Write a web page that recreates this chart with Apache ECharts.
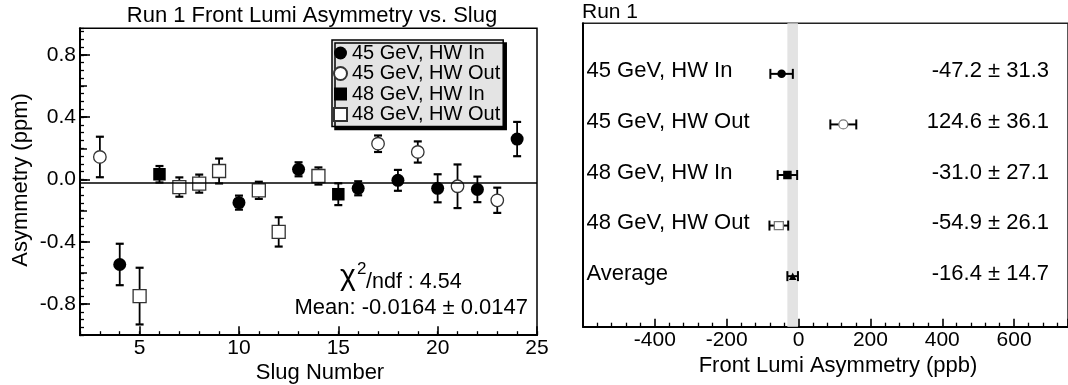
<!DOCTYPE html>
<html><head><meta charset="utf-8">
<script src="https://cdn.jsdelivr.net/npm/echarts@6/dist/echarts.min.js"></script>
<style>html,body{margin:0;padding:0;background:#fff}#c{width:1068px;height:385px}</style>
</head><body><div id="c"></div>
<script>
// ---------- Left panel data ----------
const seriesNames = ['45 GeV, HW In', '45 GeV, HW Out', '48 GeV, HW In', '48 GeV, HW Out'];
const slugs45In = [4, 10, 13, 16, 18, 20, 22, 24];
const asym45In  = [-0.546, -0.149, 0.065, -0.057, -0.006, -0.057, -0.064, 0.259];
const err45In   = [0.133, 0.045, 0.045, 0.045, 0.067, 0.09, 0.082, 0.11];
const slugs45Out = [3, 17, 19, 21, 23];
const asym45Out  = [0.144, 0.229, 0.176, -0.044, -0.134];
const err45Out   = [0.13, 0.053, 0.068, 0.14, 0.081];
const slugs48In = [6, 15];
const asym48In  = [0.033, -0.095];
const err48In   = [0.053, 0.07];
const slugs48Out = [5, 7, 8, 9, 11, 12, 14];
const asym48Out  = [-0.749, -0.049, -0.027, 0.054, -0.07, -0.337, 0.022];
const err48Out   = [0.182, 0.062, 0.058, 0.08, 0.055, 0.094, 0.055];
const fitMean = -0.0164, fitMeanErr = 0.0147, chi2ndf = 4.54;
const slugTickLabels = [5, 10, 15, 20, 25];
const asymTickLabels = [-0.8, -0.4, 0.0, 0.4, 0.8];
const asymMidTicks = [-0.8, -0.6, -0.4, -0.2, 0, 0.2, 0.4, 0.6, 0.8];

// ---------- Right panel data ----------
const rowLabels = ['45 GeV, HW In', '45 GeV, HW Out', '48 GeV, HW In', '48 GeV, HW Out', 'Average'];
const rowValues = [-47.2, 124.6, -31.0, -54.9, -16.4];
const rowErrors = [31.3, 36.1, 27.1, 26.1, 14.7];

// ---------- styling ----------
const FONT = '"Liberation Sans", Arial, Helvetica, sans-serif';
const rightMin = -600, rightMax = 750;
const rowMarker = [
  {symbol: 'circle', symbolSize: 8.5, itemStyle: {color: '#000', opacity: 1}},
  {symbol: 'circle', symbolSize: 9, itemStyle: {color: '#fff', borderColor: '#777', borderWidth: 1.2, opacity: 1}},
  {symbol: 'rect', symbolSize: 8.5, itemStyle: {color: '#000', opacity: 1}},
  {symbol: 'rect', symbolSize: [9, 8], itemStyle: {color: '#fff', borderColor: '#777', borderWidth: 1.2, opacity: 1}},
  {symbol: 'triangle', symbolSize: 7.5, itemStyle: {color: '#000', opacity: 1}}
];
const leftMarker = [
  {symbol: 'circle', symbolSize: 13, itemStyle: {color: '#000', opacity: 1}},
  {symbol: 'circle', symbolSize: 12.5, itemStyle: {color: '#fff', borderColor: '#333', borderWidth: 1.3, opacity: 1}},
  {symbol: 'rect', symbolSize: 12.5, itemStyle: {color: '#000', opacity: 1}},
  {symbol: 'rect', symbolSize: 13, itemStyle: {color: '#fff', borderColor: '#333', borderWidth: 1.3, opacity: 1}}
];

function pts(xs, ys, es) { return xs.map((x, i) => [x, ys[i], es[i]]); }
const leftData = [
  pts(slugs45In, asym45In, err45In),
  pts(slugs45Out, asym45Out, err45Out),
  pts(slugs48In, asym48In, err48In),
  pts(slugs48Out, asym48Out, err48Out)
];

function vErr(params, api) {
  const x = api.value(0), y = api.value(1), e = api.value(2);
  const a = api.coord([x, y + e]), b = api.coord([x, y - e]);
  const hw = 4;
  return {type: 'group', children: [
    {type: 'line', shape: {x1: a[0], y1: a[1], x2: b[0], y2: b[1]}, style: {stroke: '#000', lineWidth: 1.8}},
    {type: 'line', shape: {x1: a[0] - hw, y1: a[1], x2: a[0] + hw, y2: a[1]}, style: {stroke: '#000', lineWidth: 2.2}},
    {type: 'line', shape: {x1: b[0] - hw, y1: b[1], x2: b[0] + hw, y2: b[1]}, style: {stroke: '#000', lineWidth: 2.2}}
  ]};
}
function hErr(params, api) {
  const x = api.value(0), y = api.value(1), e = api.value(2);
  const a = api.coord([x - e, y]), b = api.coord([x + e, y]);
  const hh = 5;
  return {type: 'group', children: [
    {type: 'line', shape: {x1: a[0], y1: a[1], x2: b[0], y2: b[1]}, style: {stroke: '#000', lineWidth: 2}},
    {type: 'line', shape: {x1: a[0], y1: a[1] - hh, x2: a[0], y2: a[1] + hh}, style: {stroke: '#000', lineWidth: 2}},
    {type: 'line', shape: {x1: b[0], y1: b[1] - hh, x2: b[0], y2: b[1] + hh}, style: {stroke: '#000', lineWidth: 2}}
  ]};
}
function rowText(params, api) {
  const i = params.dataIndex;
  const p = api.coord([api.value(0), api.value(1)]);
  const fs = 22;
  const txt = rowValues[i].toFixed(1) + ' \u00b1 ' + rowErrors[i].toFixed(1);
  return {type: 'group', children: [
    {type: 'text', x: p[0] + 3.5, y: p[1] - 2.5, style: {text: rowLabels[i], fontSize: fs, fontFamily: FONT, fill: '#000', align: 'left', verticalAlign: 'middle', textAlign: 'left', textVerticalAlign: 'middle'}},
    {type: 'text', x: p[0] + 466, y: p[1] - 2.5, style: {text: txt, fontSize: fs, fontFamily: FONT, fill: '#000', align: 'right', verticalAlign: 'middle', textAlign: 'right', textVerticalAlign: 'middle'}}
  ]};
}

const series = [];
leftData.forEach((d, k) => {
  series.push({type: 'custom', name: 'err' + k, xAxisIndex: 0, yAxisIndex: 0, data: d, renderItem: vErr, encode: {x: 0, y: 1}, z: 2, silent: true});
});
leftData.forEach((d, k) => {
  const s = {type: 'scatter', name: seriesNames[k], xAxisIndex: 0, yAxisIndex: 0,
    data: d.map(p => [p[0], p[1]]), symbol: leftMarker[k].symbol, symbolSize: leftMarker[k].symbolSize,
    itemStyle: leftMarker[k].itemStyle, z: 4, silent: true};
  if (k === 0) {
    s.markLine = {silent: true, symbol: ['none', 'none'], label: {show: false},
      lineStyle: {color: '#000', width: 1.5, type: 'solid', opacity: 1}, data: [{yAxis: fitMean}]};
  }
  series.push(s);
});
series.push({type: 'line', name: 'band', xAxisIndex: 2, yAxisIndex: 3, data: [], z: 0, silent: true,
  markArea: {silent: true, itemStyle: {color: '#e3e3e3', opacity: 1},
    data: [[{xAxis: rowValues[4] - rowErrors[4]}, {xAxis: rowValues[4] + rowErrors[4]}]]}});
series.push({type: 'custom', name: 'rowErr', xAxisIndex: 2, yAxisIndex: 3,
  data: rowValues.map((v, i) => [v, i + 1, rowErrors[i]]), renderItem: hErr, encode: {x: 0, y: 1}, z: 2, silent: true});
series.push({type: 'scatter', name: 'rowPts', xAxisIndex: 2, yAxisIndex: 3, z: 4, silent: true,
  data: rowValues.map((v, i) => Object.assign({value: [v, i + 1]}, rowMarker[i]))});
series.push({type: 'custom', name: 'rowText', xAxisIndex: 2, yAxisIndex: 3,
  data: rowLabels.map((l, i) => [rightMin, i + 1]), renderItem: rowText, encode: {x: 0, y: 1}, z: 5, silent: true, clip: false});

const tickLbl = {fontSize: 21, fontFamily: FONT, color: '#000'};
const option = {
  animation: false,
  backgroundColor: '#fff',
  textStyle: {fontFamily: FONT},
  grid: [
    {left: 80, top: 28.3, width: 457, height: 306.9, show: true, borderColor: '#000', borderWidth: 1.5, backgroundColor: 'transparent'},
    {left: 583, top: 23.3, width: (rightMax - rightMin) * 0.3636, height: 303.4, show: true, borderColor: '#222', borderWidth: 1.5, backgroundColor: 'transparent'}
  ],
  xAxis: [
    {gridIndex: 0, type: 'value', min: 2, max: 25, interval: 1,
      axisLine: {onZero: false, lineStyle: {color: '#000', width: 2}},
      axisTick: {inside: true, length: 4, lineStyle: {color: '#000', width: 1.3}},
      axisLabel: Object.assign({customValues: slugTickLabels, margin: 3}, tickLbl),
      splitLine: {show: false}},
    {gridIndex: 0, type: 'value', min: 2, max: 25, position: 'bottom', offset: 0,
      axisLine: {show: false, onZero: false},
      axisTick: {customValues: slugTickLabels, inside: true, length: 9, lineStyle: {color: '#000', width: 1.6}},
      axisLabel: {show: false}, splitLine: {show: false}},
    {gridIndex: 1, type: 'value', min: rightMin, max: rightMax, interval: 200,
      axisLine: {onZero: false, lineStyle: {color: '#000', width: 2}},
      axisTick: {inside: true, length: 8, lineStyle: {color: '#000', width: 1.6}},
      minorTick: {show: true, splitNumber: 5, length: 4, lineStyle: {color: '#000', width: 1.3}},
      axisLabel: Object.assign({margin: 3, showMinLabel: false, showMaxLabel: false}, tickLbl),
      splitLine: {show: false}, minorSplitLine: {show: false}}
  ],
  yAxis: [
    {gridIndex: 0, type: 'value', min: -1, max: 0.97, interval: 0.05,
      axisLine: {onZero: false, lineStyle: {color: '#000', width: 2}},
      axisTick: {inside: true, length: 4, lineStyle: {color: '#000', width: 1.3}},
      axisLabel: Object.assign({customValues: asymTickLabels, margin: 4, formatter: v => v.toFixed(1)}, tickLbl),
      splitLine: {show: false}},
    {gridIndex: 0, type: 'value', min: -1, max: 0.97, position: 'left', offset: 0,
      axisLine: {show: false, onZero: false},
      axisTick: {customValues: asymMidTicks, inside: true, length: 7, lineStyle: {color: '#000', width: 1.5}},
      axisLabel: {show: false}, splitLine: {show: false}},
    {gridIndex: 0, type: 'value', min: -1, max: 0.97, position: 'left', offset: 0,
      axisLine: {show: false, onZero: false},
      axisTick: {customValues: asymTickLabels, inside: true, length: 10, lineStyle: {color: '#000', width: 1.6}},
      axisLabel: {show: false}, splitLine: {show: false}},
    {gridIndex: 1, type: 'value', min: 0, max: 6, inverse: true,
      axisLine: {onZero: false, lineStyle: {color: '#000', width: 2}},
      axisTick: {show: false}, axisLabel: {show: false}, splitLine: {show: false}}
  ],
  legend: {
    data: seriesNames, orient: 'vertical', left: 332, top: 40,
    itemWidth: 13, itemHeight: 13, itemGap: 0.5, selectedMode: false,
    padding: [3, 3, 2, 1],
    textStyle: {fontSize: 20, fontFamily: FONT, color: '#000', lineHeight: 18},
    backgroundColor: '#e4e4e4', borderColor: '#000', borderWidth: 1.5,
    shadowColor: '#000', shadowOffsetX: 3, shadowOffsetY: 3, shadowBlur: 0
  },
  graphic: {elements: [
    {type: 'text', x: 312, y: 15.9, style: {text: 'Run 1 Front Lumi Asymmetry vs. Slug', fontSize: 22, fontFamily: FONT, fill: '#000', align: 'center', verticalAlign: 'middle', textAlign: 'center', textVerticalAlign: 'middle'}},
    {type: 'text', x: 320, y: 372.5, style: {text: 'Slug Number', fontSize: 22, fontFamily: FONT, fill: '#000', align: 'center', verticalAlign: 'middle', textAlign: 'center', textVerticalAlign: 'middle'}},
    {type: 'text', x: 20.5, y: 180, rotation: Math.PI / 2, style: {text: 'Asymmetry (ppm)', fontSize: 22, fontFamily: FONT, fill: '#000', align: 'center', verticalAlign: 'middle', textAlign: 'center', textVerticalAlign: 'middle'}},
    {type: 'text', x: 340, y: 277, style: {text: '\u03c7', fontSize: 30, fontFamily: FONT, fill: '#000', align: 'left', verticalAlign: 'middle', textAlign: 'left', textVerticalAlign: 'middle'}},
    {type: 'text', x: 357, y: 269.7, style: {text: '2', fontSize: 17, fontFamily: FONT, fill: '#000', align: 'left', verticalAlign: 'middle', textAlign: 'left', textVerticalAlign: 'middle'}},
    {type: 'text', x: 366, y: 282.5, style: {text: '/ndf : ' + chi2ndf.toFixed(2), fontSize: 21.5, fontFamily: FONT, fill: '#000', align: 'left', verticalAlign: 'middle', textAlign: 'left', textVerticalAlign: 'middle'}},
    {type: 'text', x: 528, y: 308.2, style: {text: 'Mean: ' + fitMean.toFixed(4) + ' \u00b1 ' + fitMeanErr.toFixed(4), fontSize: 22, fontFamily: FONT, fill: '#000', align: 'right', verticalAlign: 'middle', textAlign: 'right', textVerticalAlign: 'middle'}},
    {type: 'text', x: 582, y: 12.5, style: {text: 'Run 1', fontSize: 21, fontFamily: FONT, fill: '#000', align: 'left', verticalAlign: 'middle', textAlign: 'left', textVerticalAlign: 'middle'}},
    {type: 'text', x: 838, y: 366, style: {text: 'Front Lumi Asymmetry (ppb)', fontSize: 22, fontFamily: FONT, fill: '#000', align: 'center', verticalAlign: 'middle', textAlign: 'center', textVerticalAlign: 'middle'}}
  ]},
  series: series
};
const chart = echarts.init(document.getElementById('c'), null, {renderer: 'canvas'});
chart.setOption(option);
</script>
</body></html>
